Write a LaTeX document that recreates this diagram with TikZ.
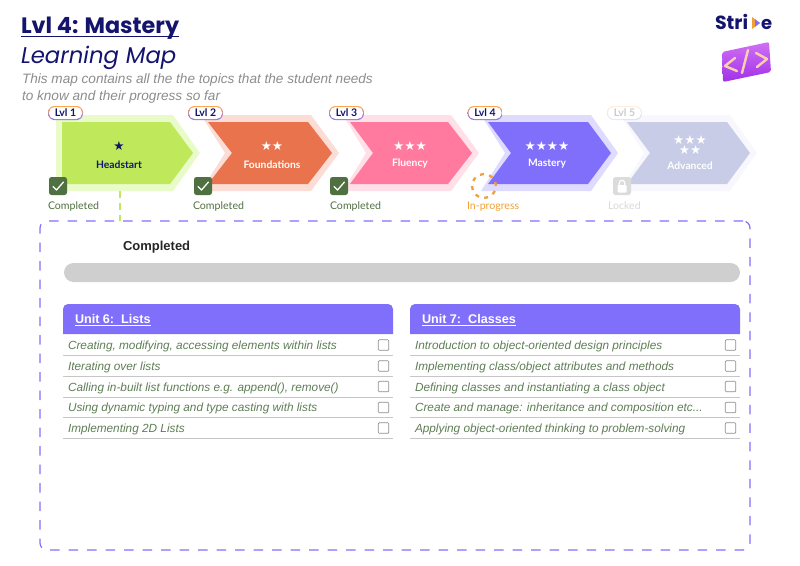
\documentclass[tikz,border=0pt]{standalone}
\usepackage{fontspec}
\usepackage{xcolor}
\setmainfont{Liberation Sans}
\newfontfamily\headfont{Poppins}
\newfontfamily\labelfont{Lato}
\newfontfamily\symfont{DejaVu Sans}
\usetikzlibrary{shapes,calc}
\definecolor{cNavy}{HTML}{14146E}
\definecolor{cPurple}{HTML}{7F6FFB}
\definecolor{cGreen}{HTML}{4F7040}
\definecolor{cRow}{HTML}{5E7D55}
\definecolor{cPeach}{HTML}{FBD0B0}
\definecolor{cLime}{HTML}{BFE85A}
\definecolor{cLimeHalo}{HTML}{E9FBC8}
\definecolor{cCoral}{HTML}{E8734C}
\definecolor{cCoralHalo}{HTML}{FBDDD5}
\definecolor{cPink}{HTML}{FF7A9E}
\definecolor{cPinkHalo}{HTML}{FFDFE8}
\definecolor{cPurpleHalo}{HTML}{DEDBFF}
\definecolor{cLavender}{HTML}{C8CCE6}
\definecolor{cLavenderHalo}{HTML}{F7F7FD}
\definecolor{cAmber}{HTML}{EFA038}
\definecolor{cIconTop}{HTML}{D070F5}
\definecolor{cIconBot}{HTML}{A030E8}
\tikzstyle{tsBase} = [
    inner sep=0pt,
    outer sep=0pt
]
\tikzstyle{tsStar} = [
    tsBase,
    align=center,
    font=\symfont\fontsize{12.5}{9.5}\selectfont
]
\tikzstyle{tsArrowText} = [
    tsBase,
    font=\labelfont\bfseries\fontsize{10.3}{12}\selectfont
]
\tikzstyle{tsStatus} = [
    tsBase,
    anchor=base west,
    font=\labelfont\fontsize{10.6}{12}\selectfont
]
\tikzstyle{tsPillOut} = [
    tsBase,
    rectangle,
    rounded corners=6.5pt,
    minimum width=35pt,
    minimum height=14pt,
    top color=orange!70,
    bottom color=cPurple
]
\tikzstyle{tsPillIn} = [
    tsBase,
    rectangle,
    rounded corners=5.5pt,
    fill=white,
    text=cNavy,
    minimum width=33pt,
    minimum height=12pt,
    font=\labelfont\bfseries\fontsize{10.5}{10}\selectfont
]
\tikzstyle{tsTick} = [
    tsBase,
    rectangle,
    rounded corners=2.5pt,
    fill=cGreen,
    minimum width=18pt,
    minimum height=18pt
]
\tikzstyle{tsCheck} = [
    draw=white,
    line width=1.3pt,
    line cap=round,
    line join=round
]
\tikzstyle{tsUnit} = [
    tsBase,
    anchor=base west,
    text=white,
    font=\bfseries\fontsize{12.6}{15}\selectfont
]
\tikzstyle{tsRow} = [
    tsBase,
    anchor=base west,
    text=cRow,
    font=\itshape\fontsize{11.8}{13}\selectfont
]
\tikzstyle{tsBox} = [
    tsBase,
    rectangle,
    rounded corners=1pt,
    draw=gray!90,
    line width=0.7pt,
    minimum width=10.5pt,
    minimum height=10.5pt
]
\tikzstyle{tsSep} = [
    draw=gray!45,
    line width=0.7pt
]
\tikzstyle{tsGlyph} = [
    draw=cPeach,
    line width=2.4pt,
    line cap=round,
    line join=round
]

\begin{document}
\begin{tikzpicture}[x=1pt, y=-1pt]

    \useasboundingbox (0,0) rectangle (800,565);

    % heading
    \node[tsBase, anchor=base west, text=cNavy, font=\headfont\bfseries\fontsize{22.3}{24}\selectfont] (title) at (21,33) {Lvl 4: Mastery};
    \draw[draw=cNavy, line width=1pt] ($(title.base west)+(0,3)$) -- ($(title.base east)+(0,3)$);
    \node[tsBase, anchor=base west, text=cNavy, font=\headfont\itshape\fontsize{22.8}{24}\selectfont] (subtitle) at (21,63) {Learning Map};
    \node[tsBase, anchor=base west, text=gray!90, font=\itshape\fontsize{13.6}{15}\selectfont] (introa) at (22,83) {This map contains all the the topics that the student needs};
    \node[tsBase, anchor=base west, text=gray!90, font=\itshape\fontsize{13.6}{15}\selectfont] (introb) at (22,100) {to know and their progress so far};

    % logo
    \node[tsBase, anchor=base west, text=cNavy, font=\headfont\bfseries\fontsize{19}{20}\selectfont] (logoa) at (715,29) {Stri};
    \node[tsBase, anchor=base west, text=cNavy, font=\headfont\bfseries\fontsize{18}{20}\selectfont] (logob) at (761,29) {e};
    \fill[cAmber] (752,17) -- (760,23) -- (752,29) -- cycle;
    \fill[cPurple] (755,19.3) -- (760,23) -- (755,26.7) -- cycle;
    \shade[top color=cIconTop, bottom color=cIconBot, rounded corners=2pt] (722,52) -- (769,42) -- (771,72) -- (723,82) -- cycle;
    \draw[tsGlyph] (735,58) -- (725,66) -- (737,71);
    \draw[tsGlyph] (748,50) -- (742,73);
    \draw[tsGlyph] (756,53) -- (767,59) -- (757,67);

    % level arrows
    \fill[fill=cLimeHalo] (56,115) -- (173,115) -- (200,153) -- (173,191) -- (56,191) -- cycle;
    \fill[fill=cLime] (62,122) -- (170,122) -- (193,153) -- (170,184) -- (62,184) -- cycle;
    \fill[fill=cCoralHalo] (201,115) -- (311,115) -- (339,153) -- (311,191) -- (201,191) -- (225,153) -- cycle;
    \fill[fill=cCoral] (208,122) -- (308,122) -- (332,153) -- (308,184) -- (208,184) -- (232,153) -- cycle;
    \fill[fill=cPinkHalo] (343,115) -- (451,115) -- (479,153) -- (451,191) -- (343,191) -- (366,153) -- cycle;
    \fill[fill=cPink] (350,122) -- (448,122) -- (472,153) -- (448,184) -- (350,184) -- (373,153) -- cycle;
    \fill[fill=cPurpleHalo] (481,115) -- (591,115) -- (618,153) -- (591,191) -- (481,191) -- (505,153) -- cycle;
    \fill[fill=cPurple] (488,122) -- (588,122) -- (611,153) -- (588,184) -- (488,184) -- (511,153) -- cycle;
    \fill[fill=cLavenderHalo] (620,115) -- (730,115) -- (757,153) -- (730,191) -- (620,191) -- (644,153) -- cycle;
    \fill[fill=cLavender] (627,122) -- (727,122) -- (750,153) -- (727,184) -- (627,184) -- (650,153) -- cycle;

    \node[tsStar, text=cNavy] (staraa) at (119,146) {★};
    \node[tsStar, text=white] (starbb) at (272,146) {★★};
    \node[tsStar, text=white] (starcc) at (410,146) {★★★};
    \node[tsStar, text=white] (stardd) at (547,146) {★★★★};
    \node[tsStar, text=white] (starea) at (690,145) {★★★\\★★};

    \node[tsArrowText, text=cNavy] (headstart) at (119,165) {Headstart};
    \node[tsArrowText, text=white] (foundations) at (272,165) {Foundations};
    \node[tsArrowText, text=white] (fluency) at (410,164) {Fluency};
    \node[tsArrowText, text=white] (mastery) at (547,164) {Mastery};
    \node[tsArrowText, text=white] (advanced) at (690,166) {Advanced};

    % level tags
    \node[tsPillOut] (lvlaout) at (65.5,113) {};
    \node[tsPillIn] (lvla) at (65.5,113) {Lvl 1};
    \node[tsPillOut] (lvlbout) at (205.5,113) {};
    \node[tsPillIn] (lvlb) at (205.5,113) {Lvl 2};
    \node[tsPillOut] (lvlcout) at (346.5,113) {};
    \node[tsPillIn] (lvlc) at (346.5,113) {Lvl 3};
    \node[tsPillOut] (lvldout) at (485,113) {};
    \node[tsPillIn] (lvld) at (485,113) {Lvl 4};
    \node[tsPillOut, opacity=0.2] (lvleout) at (624.5,113) {};
    \node[tsPillIn, text=gray!40] (lvle) at (624.5,113) {Lvl 5};

    % status marks
    \node[tsTick] (ticka) at (58,186) {};
    \draw[tsCheck] (53,186.5) -- (56.5,190) -- (63.5,182);
    \node[tsTick] (tickb) at (203,186) {};
    \draw[tsCheck] (198,186.5) -- (201.5,190) -- (208.5,182);
    \node[tsTick] (tickc) at (339,186) {};
    \draw[tsCheck] (334,186.5) -- (337.5,190) -- (344.5,182);
    \node[tsBase, circle, draw=cAmber, line width=2.3pt, dash pattern=on 4pt off 5.4pt, minimum size=24pt] (progress) at (484,186) {};
    \node[tsBase, rectangle, rounded corners=2.5pt, fill=gray!28, minimum width=18pt, minimum height=18pt] (lock) at (622,186) {};
    \fill[white, rounded corners=0.8pt] (617.5,185) rectangle (626.5,192.5);
    \draw[white, line width=1.2pt] (619.3,185) -- (619.3,183) arc[start angle=180, end angle=360, radius=2.7] -- (624.7,185);

    \node[tsStatus, text=cGreen] (stata) at (48,209) {Completed};
    \node[tsStatus, text=cGreen] (statb) at (193,209) {Completed};
    \node[tsStatus, text=cGreen] (statc) at (330,209) {Completed};
    \node[tsStatus, text=cAmber] (statd) at (467,209) {In-progress};
    \node[tsStatus, text=gray!30] (state) at (608,209) {Locked};

    % detail panel
    \node[tsBase, rectangle, rounded corners=7pt, draw=cPurple, line width=1.2pt, dash pattern=on 9.5pt off 9pt, minimum width=710pt, minimum height=329pt] (panel) at (395,385.5) {};
    \coordinate (headbase) at (120,191);
    \draw[draw=cLime, line width=1.2pt, dash pattern=on 7pt off 5pt] (headbase) -- (headbase |- panel.north);

    \node[tsBase, anchor=base west, font=\bfseries\fontsize{13}{15}\selectfont, text=black!85] (done) at (123,250) {Completed};
    \node[tsBase, rectangle, rounded corners=9.5pt, fill=gray!38, minimum width=676pt, minimum height=19pt] (bar) at (402,272.5) {};

    % unit 6
    \fill[cPurple] (63,334) [rounded corners=5pt] -- (63,304) -- (393,304) [sharp corners] -- (393,334) -- cycle;
    \node[tsUnit] (unita) at (75,323.5) {\underline{Unit 6:\ \ Lists}};
    \node[tsRow] (rowaa) at (68,349) {Creating, modifying, accessing elements within lists};
    \node[tsRow] (rowab) at (68,370) {Iterating over lists};
    \node[tsRow] (rowac) at (68,391) {Calling in-built list functions e.g. append(), remove()};
    \node[tsRow] (rowad) at (68,411) {Using dynamic typing and type casting with lists};
    \node[tsRow] (rowae) at (68,432) {Implementing 2D Lists};
    \node[tsBox] (boxaa) at (383.5,345) {};
    \node[tsBox] (boxab) at (383.5,366) {};
    \node[tsBox] (boxac) at (383.5,386.5) {};
    \node[tsBox] (boxad) at (383.5,407.5) {};
    \node[tsBox] (boxae) at (383.5,428) {};
    \draw[tsSep] (63,355.5) -- (393,355.5);
    \draw[tsSep] (63,376) -- (393,376);
    \draw[tsSep] (63,397) -- (393,397);
    \draw[tsSep] (63,417.5) -- (393,417.5);
    \draw[tsSep] (63,438.5) -- (393,438.5);

    % unit 7
    \fill[cPurple] (410,334) [rounded corners=5pt] -- (410,304) -- (740,304) [sharp corners] -- (740,334) -- cycle;
    \node[tsUnit] (unitb) at (422,323.5) {\underline{Unit 7:\ \ Classes}};
    \node[tsRow] (rowba) at (415,349) {Introduction to object-oriented design principles};
    \node[tsRow] (rowbb) at (415,370) {Implementing class/object attributes and methods};
    \node[tsRow] (rowbc) at (415,391) {Defining classes and instantiating a class object};
    \node[tsRow] (rowbd) at (415,411) {Create and manage: inheritance and composition etc...};
    \node[tsRow] (rowbe) at (415,432) {Applying object-oriented thinking to problem-solving};
    \node[tsBox] (boxba) at (730.5,345) {};
    \node[tsBox] (boxbb) at (730.5,366) {};
    \node[tsBox] (boxbc) at (730.5,386.5) {};
    \node[tsBox] (boxbd) at (730.5,407.5) {};
    \node[tsBox] (boxbe) at (730.5,428) {};
    \draw[tsSep] (410,355.5) -- (740,355.5);
    \draw[tsSep] (410,376) -- (740,376);
    \draw[tsSep] (410,397) -- (740,397);
    \draw[tsSep] (410,417.5) -- (740,417.5);
    \draw[tsSep] (410,438.5) -- (740,438.5);

\end{tikzpicture}
\end{document}
